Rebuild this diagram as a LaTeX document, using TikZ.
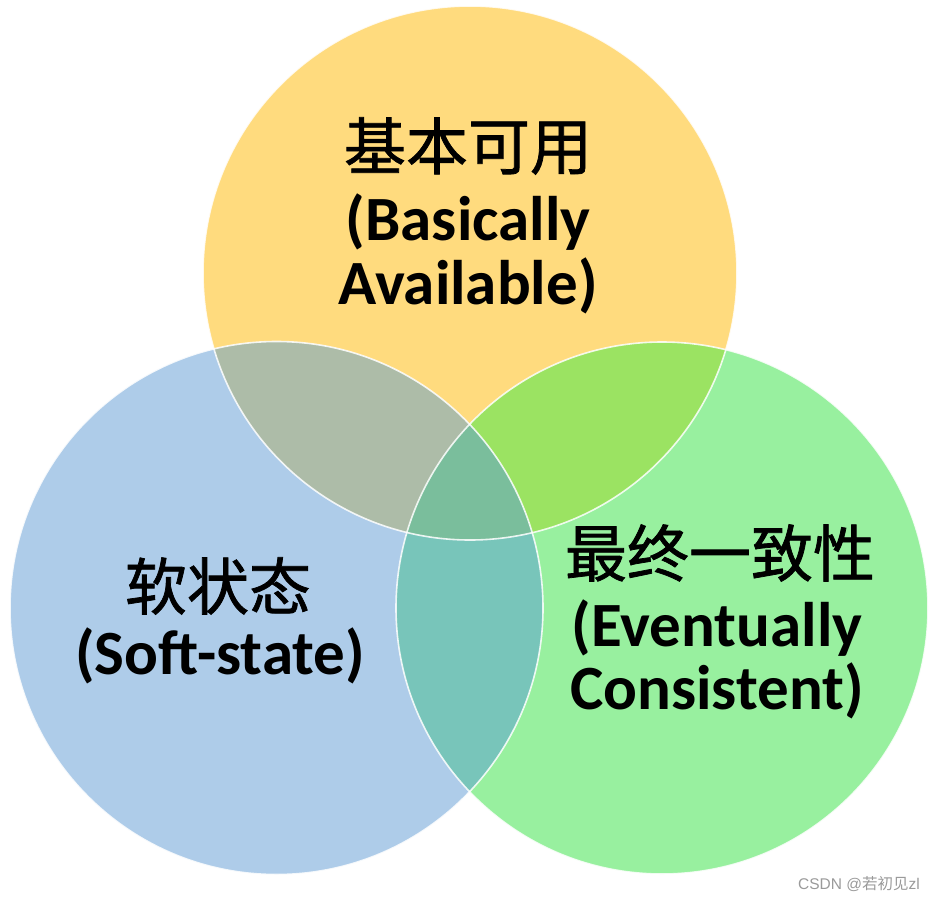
\documentclass[tikz,border=0pt]{standalone}
\usepackage{fontspec}
\setmainfont{Carlito}
\newfontfamily\cjk{Noto Sans CJK SC}
\newfontfamily\cjkb[FakeBold=1.2]{Noto Sans CJK SC}
\newfontfamily\wmfont{Liberation Sans}
\definecolor{ycol}{HTML}{FFDB7E}
\definecolor{bcol}{HTML}{AECCE9}
\definecolor{gcol}{HTML}{98F09F}
\definecolor{ybcol}{HTML}{ADBCA8}
\definecolor{ygcol}{HTML}{9BE362}
\definecolor{bgcol}{HTML}{78C5BA}
\definecolor{ybgcol}{HTML}{7ABE9C}
\definecolor{wmcol}{HTML}{9A9A9A}
\tikzset{
  rim/.style={draw=white, line width=1.6pt, draw opacity=0.85},
  zh/.style={font=\cjkb\fontsize{62}{66}\selectfont, inner sep=0pt, anchor=center},
  en/.style={font=\bfseries\fontsize{63}{66}\selectfont, inner sep=0pt, anchor=center},
}
\begin{document}
\begin{tikzpicture}[x=1pt,y=-1pt]
\useasboundingbox (0,0) rectangle (936,902);
\def\Ycirc{(470,273) circle (267)}
\def\Bcirc{(276.5,608) circle (266.5)}
\def\Gcirc{(662,608) circle (266)}
\fill[ycol] \Ycirc;
\fill[bcol] \Bcirc;
\fill[gcol] \Gcirc;
\begin{scope}\clip \Ycirc; \fill[ybcol] \Bcirc; \end{scope}
\begin{scope}\clip \Ycirc; \fill[ygcol] \Gcirc; \end{scope}
\begin{scope}\clip \Bcirc; \fill[bgcol] \Gcirc; \end{scope}
\begin{scope}\clip \Ycirc; \clip \Bcirc; \fill[ybgcol] \Gcirc; \end{scope}
\draw[rim] \Ycirc;
\draw[rim] \Bcirc;
\draw[rim] \Gcirc;
% top
\node[zh] (ta) at (468,146) {基本可用};
\node[en] (tb) at (468,222) {(Basically};
\node[en] (tc) at (468,286) {Available)};
% left
\node[zh] (la) at (218,586) {软状态};
\node[en] (lb) at (220,656) {(Soft-state)};
% right
\node[zh] (ra) at (720,553) {最终一致性};
\node[en] (rb) at (717,628) {(Eventually};
\node[en] (rc) at (717,691) {Consistent)};
% watermark
\node[font=\wmfont\fontsize{15.5}{17}\selectfont, text=wmcol, inner sep=0pt] (wm) at (859,884) {CSDN @{\cjk 若初见}zl};
\end{tikzpicture}
\end{document}
